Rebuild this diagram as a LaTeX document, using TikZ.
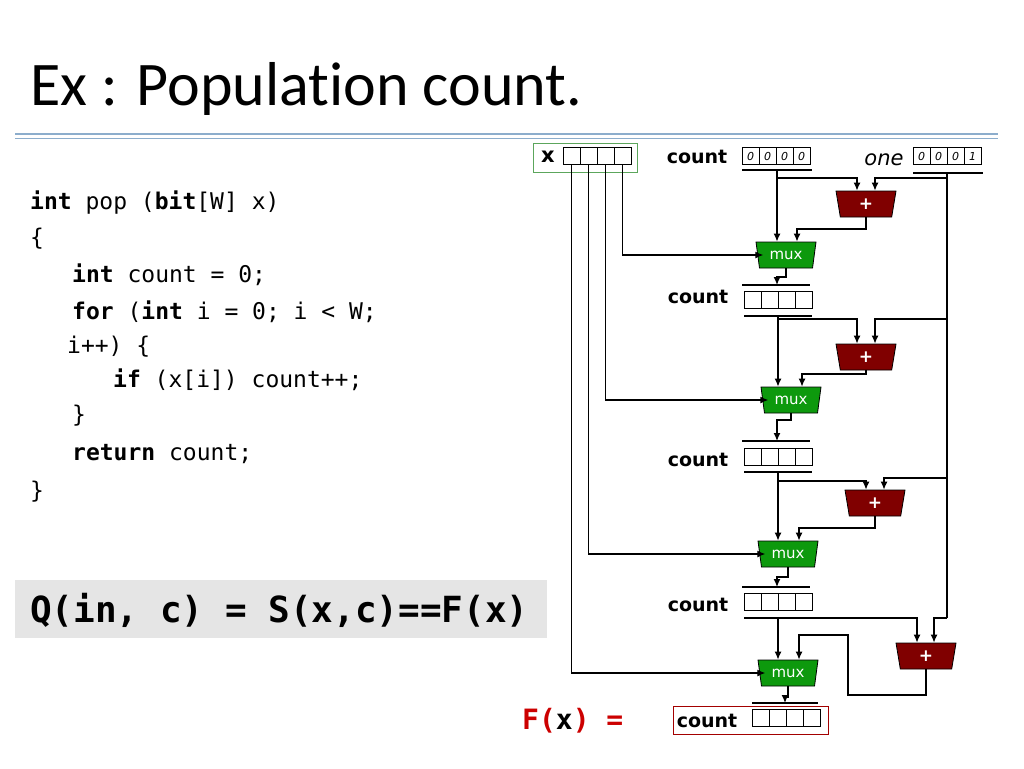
\documentclass[tikz,border=0pt]{standalone}
\usepackage{fontspec}
\setmainfont[Ligatures=NoCommon]{Carlito}
\setmonofont{DejaVu Sans Mono}
\newfontfamily\circfont{DejaVu Sans}
\usetikzlibrary{arrows.meta,shapes.geometric,calc}
\definecolor{AddClr}{rgb}{0.5,0,0}
\definecolor{MuxClr}{rgb}{0.05,0.6,0.05}
\definecolor{BoxClr}{rgb}{0.36,0.65,0.36}
\definecolor{RuleClr}{rgb}{0.55,0.68,0.8}
\definecolor{FxClr}{rgb}{0.8,0,0}

\tikzset{
  wire/.style={line width=1.3pt},
  feed/.style={wire,-{Latex[length=8pt,width=7pt]}},
  gate/.style={trapezium,shape border rotate=180,trapezium stretches body,
    minimum width=60pt,minimum height=26pt,inner sep=0pt,
    trapezium left angle=68,trapezium right angle=68,draw=black,line width=0.8pt,
    text=white,font=\circfont},
  adder/.style={gate,fill=AddClr,font=\circfont\bfseries\fontsize{17}{17}\selectfont},
  mux/.style={gate,fill=MuxClr,font=\circfont\fontsize{15}{15}\selectfont},
  cell/.style={draw,line width=0.8pt,minimum width=17pt,minimum height=17pt,inner sep=0pt,
    font=\circfont\itshape\fontsize{11}{11}\selectfont},
  lbl/.style={font=\circfont\bfseries\fontsize{19}{19}\selectfont,inner sep=0pt},
  code/.style={anchor=base west,inner sep=0pt,font=\ttfamily\fontsize{23}{23}\selectfont}
}

% a register of four cells: name, left x, centre y, contents
\newcommand{\regrow}[4]{%
  \foreach \v [count=\i] in {#4}
    \node[cell] (#1\i) at ({#2+8.5+17*(\i-1)},#3) {\v};
}

\begin{document}
\begin{tikzpicture}[x=1pt,y=-1pt]
\useasboundingbox (0,0) rectangle (1024,768);

% title
\node[anchor=base west,inner sep=0pt,font=\fontsize{62}{62}\selectfont] (title) at (30,105) {Ex : Population count.};
\draw[RuleClr,line width=1.2pt] (15,134) -- (998,134);
\draw[RuleClr,line width=0.6pt] (15,138) -- (998,138);

% program
\node[code] (c1) at (30,209) {\textbf{int} pop (\textbf{bit}[W] x)};
\node[code] (c2) at (30,245) {\{};
\node[code] (c3) at (72,282) {\textbf{int} count = 0;};
\node[code] (c4) at (72,319) {\textbf{for} (\textbf{int} i = 0; i < W;};
\node[code] (c5) at (67,353) {i++) \{};
\node[code] (c6) at (113,387) {\textbf{if} (x[i]) count++;};
\node[code] (c7) at (72,422) {\}};
\node[code] (c8) at (72,460) {\textbf{return} count;};
\node[code] (c9) at (30,498) {\}};

% query
\fill[black!10] (15,580) rectangle (547,638);
\node[anchor=base west,inner sep=0pt,font=\ttfamily\bfseries\fontsize{36}{36}\selectfont] (query) at (30,622) {Q(in, c) = S(x,c)==F(x)};

% F(x) =
\node[anchor=base west,inner sep=0pt,font=\ttfamily\bfseries\fontsize{28}{28}\selectfont,text=FxClr] (fx) at (522,729) {F(\textcolor{black}{x}) =};

% registers
\draw[BoxClr,line width=1pt] (533,143) rectangle (637,172);
\node[lbl,font=\circfont\bfseries\fontsize{21}{21}\selectfont] (xlbl) at (548,157) {x};
\regrow{x}{563}{156}{{},{},{},{}}
\node[lbl] (cnt0) at (697,157) {count};
\regrow{r}{742}{156}{0,0,0,0}
\draw[wire] (742,170) -- (812,170);
\node[lbl,font=\circfont\itshape\fontsize{21}{21}\selectfont] (onel) at (884,160) {one};
\regrow{o}{913}{156}{0,0,0,1}
\draw[wire] (913,173) -- (983,173);

\node[lbl] (cnt1) at (698,297) {count};
\draw[wire] (742,285) -- (810,285);
\regrow{s}{744}{300}{{},{},{},{}}
\draw[wire] (744,316) -- (812,316);

\node[lbl] (cnt2) at (698,460) {count};
\draw[wire] (742,441) -- (810,441);
\regrow{t}{744}{457}{{},{},{},{}}
\draw[wire] (744,472) -- (812,472);

\node[lbl] (cnt3) at (698,605) {count};
\draw[wire] (742,587) -- (810,587);
\regrow{u}{744}{602}{{},{},{},{}}
\draw[wire] (744,618) -- (812,618);

\draw[FxClr!80!black,line width=1pt] (673,706) rectangle (828,734);
\node[lbl] (cntf) at (707,721) {count};
\draw[wire] (752,703) -- (818,703);
\regrow{f}{752}{718}{{},{},{},{}}

% gates
\node[adder] (a1) at (866,204) {+};
\node[adder] (a2) at (866,357) {+};
\node[adder] (a3) at (875,503) {+};
\node[adder] (a4) at (926,656) {+};
\node[mux] (m1) at (786,255) {mux};
\node[mux] (m2) at (791,400) {mux};
\node[mux] (m3) at (788,554) {mux};
\node[mux] (m4) at (788,673) {mux};

% bits of x into the muxes
\draw[feed] (x4.south) |- ($(m1.west)+(6,0)$);
\draw[feed] (x3.south) |- ($(m2.west)+(6,0)$);
\draw[feed] (x2.south) |- ($(m3.west)+(6,0)$);
\draw[feed] (x1.south) |- ($(m4.west)+(6,0)$);

% the constant one
\draw[wire] (947,173) -- (947,618);
\draw[feed] (947,178) -| (a1.north -| 875,0);
\draw[feed] (947,319) -| (a2.north -| 875,0);
\draw[feed] (947,478) -| (a3.north -| 884,0);
\draw[feed] (947,618) -| (a4.north -| 934,0);

% stage 1
\draw[feed] (777,170) -- (m1.north -| 777,0);
\draw[feed] (777,178) -| (a1.north -| 857,0);
\draw[feed] (a1.south) |- (797,229) -- (m1.north -| 797,0);
\draw[feed] (m1.south) |- (777,277) -- (777,285);

% stage 2
\draw[feed] (778,316) -- (m2.north -| 778,0);
\draw[feed] (778,319) -| (a2.north -| 857,0);
\draw[feed] (a2.south) |- (802,374) -- (m2.north -| 802,0);
\draw[feed] (m2.south) |- (777,420) -- (777,441);

% stage 3
\draw[feed] (778,472) -- (m3.north -| 778,0);
\draw[feed] (778,481) -| (a3.north -| 866,0);
\draw[feed] (a3.south) |- (799,528) -- (m3.north -| 799,0);
\draw[feed] (m3.south) |- (777,577) -- (777,587);

% stage 4
\draw[feed] (778,618) -- (m4.north -| 778,0);
\draw[feed] (778,618) -| (a4.north -| 917,0);
\draw[feed] (a4.south) |- (848,695) |- (799,635) -- (m4.north -| 799,0);
\draw[feed] (m4.south) |- (785,697) -- (785,703);
\end{tikzpicture}
\end{document}
